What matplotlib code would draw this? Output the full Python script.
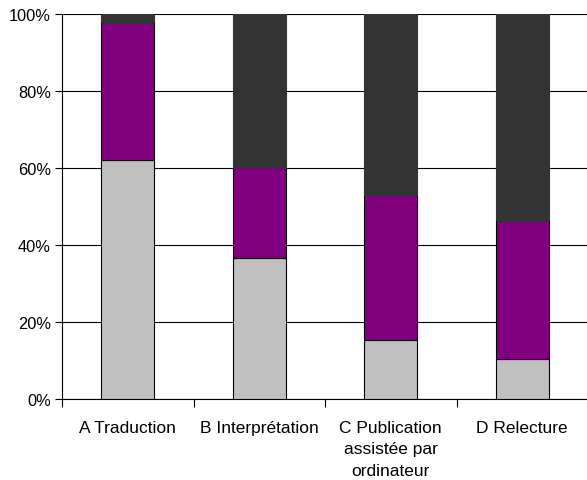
import matplotlib.pyplot as plt
import numpy as np
from matplotlib.ticker import PercentFormatter

plt.rcParams['font.family'] = ['Liberation Sans', 'DejaVu Sans']

categories = ['A Traduction', 'B Interprétation', 'C Publication\nassistée par\nordinateur', 'D Relecture']
bas = [62.0, 36.5, 15.2, 10.3]
milieu = [36.0, 23.8, 37.9, 36.1]
haut = [2.0, 39.7, 46.9, 53.6]

fig = plt.figure(figsize=(5.87, 4.81), dpi=100)
ax = fig.add_axes([62 / 587, 81 / 481, 526 / 587, 385 / 481])

x = np.arange(len(categories))
w = 0.4
ax.bar(x, bas, w, color='#c0c0c0', edgecolor='black', linewidth=0.8, zorder=3)
ax.bar(x, milieu, w, bottom=bas, color='#800080', edgecolor='black', linewidth=0.8, zorder=3)
ax.bar(x, haut, w, bottom=np.add(bas, milieu), color='#333333', edgecolor='#333333', linewidth=0.8, zorder=3)

ax.set_xlim(-0.5, len(categories) - 0.5)
ax.set_ylim(0, 100)
ax.set_yticks(range(0, 101, 20))
ax.yaxis.set_major_formatter(PercentFormatter(decimals=0))
ax.yaxis.grid(True, color='black', linewidth=0.8, zorder=0)

ax.set_xticks(np.arange(-0.5, len(categories)), minor=False)
ax.set_xticklabels([])
ax.set_xticks(x, minor=True)
ax.set_xticklabels(categories, minor=True, fontsize=12.5, linespacing=1.55)
ax.tick_params(axis='x', which='minor', length=0, pad=15)
ax.tick_params(axis='x', which='major', length=6, width=0.8)
ax.tick_params(axis='y', length=5, width=0.8, labelsize=11.8, pad=3)

for s in ['top', 'right']:
    ax.spines[s].set_visible(False)
for s in ['left', 'bottom']:
    ax.spines[s].set_linewidth(0.8)

fig.savefig('out.png', dpi=100)
